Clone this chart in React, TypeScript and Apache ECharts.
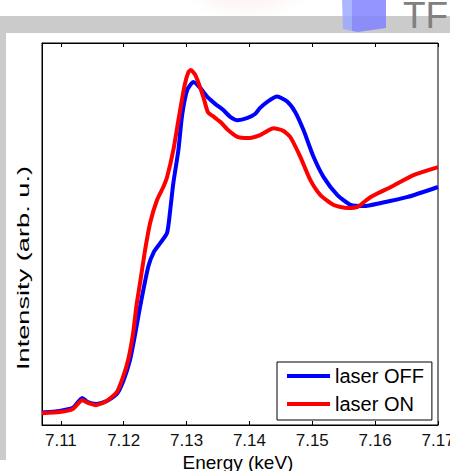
import React, { useEffect, useRef } from "react";
import * as echarts from "echarts";

// X tick labels (keV)
const xTicks = [7.11, 7.12, 7.13, 7.14, 7.15, 7.16, 7.17];

// laser OFF
const energyOff = [7.1070, 7.1098, 7.1119, 7.1134, 7.1143, 7.1156, 7.1173, 7.1189, 7.1200, 7.1210, 7.1218, 7.1226, 7.1239, 7.1248, 7.1258, 7.1269, 7.1274, 7.1279, 7.1287, 7.1293, 7.1301, 7.1311, 7.1322, 7.1333, 7.1346, 7.1358, 7.1370, 7.1381, 7.1397, 7.1409, 7.1417, 7.1430, 7.1444, 7.1460, 7.1473, 7.1486, 7.1502, 7.1518, 7.1540, 7.1561, 7.1582, 7.1609, 7.1652, 7.1700];
const intensityOff = [3.3, 3.7, 4.5, 7.1, 6.0, 5.5, 6.3, 8.1, 11.8, 17.0, 23.6, 30.9, 41.4, 45.3, 47.6, 50.3, 56.3, 63.4, 72.0, 81.2, 87.7, 89.8, 88.2, 85.9, 84.0, 82.5, 80.6, 79.8, 80.4, 81.4, 83.0, 84.8, 86.0, 84.7, 81.9, 77.2, 70.2, 64.9, 60.2, 57.6, 57.3, 58.1, 59.7, 62.3];

// laser ON
const energyOn = [7.1070, 7.1098, 7.1119, 7.1134, 7.1143, 7.1156, 7.1173, 7.1189, 7.1199, 7.1207, 7.1215, 7.1220, 7.1226, 7.1234, 7.1242, 7.1253, 7.1263, 7.1269, 7.1279, 7.1287, 7.1297, 7.1303, 7.1307, 7.1314, 7.1322, 7.1328, 7.1334, 7.1344, 7.1354, 7.1366, 7.1381, 7.1397, 7.1417, 7.1429, 7.1438, 7.1454, 7.1465, 7.1481, 7.1497, 7.1513, 7.1534, 7.1556, 7.1572, 7.1593, 7.1625, 7.1661, 7.1700];
const intensityOn = [3.1, 3.4, 4.2, 6.5, 5.8, 5.2, 6.3, 8.6, 12.6, 17.0, 24.1, 30.9, 37.2, 45.8, 52.9, 58.9, 62.3, 64.9, 72.0, 79.8, 89.0, 92.4, 92.9, 91.6, 88.2, 85.1, 81.9, 80.6, 79.3, 77.2, 75.4, 75.1, 75.9, 77.0, 77.7, 77.0, 75.4, 70.2, 64.1, 60.2, 57.6, 56.8, 57.1, 59.7, 62.3, 65.4, 67.5];

const FONT = '"Liberation Sans", Arial, sans-serif';

export default function App() {
  const ref = useRef<HTMLDivElement>(null);
  useEffect(() => {
    if (!ref.current) return;
    const chart = echarts.init(ref.current, null, { renderer: "svg" });
    const pairs = (xs: number[], ys: number[]) => xs.map((x, i) => [x, ys[i]]);
    const baseX = {
      type: "value",
      min: 7.107,
      max: 7.17,
      splitLine: { show: false },
    };
    chart.setOption({
      animation: false,
      backgroundColor: "transparent",
      grid: {
        left: 42,
        top: 43,
        right: 12,
        bottom: 46,
        containLabel: false,
        outerBoundsMode: "none",
        show: true,
        borderColor: "#000",
        borderWidth: 1,
        backgroundColor: "#fff",
      },
      xAxis: [
        {
          ...baseX,
          position: "bottom",
          axisLine: { show: true, lineStyle: { color: "#000", width: 1 } },
          axisTick: { show: true, inside: true, length: 4, customValues: xTicks, lineStyle: { color: "#000" } },
          axisLabel: {
            show: true,
            customValues: xTicks,
            formatter: (v: number) => v.toFixed(2),
            color: "#111",
            fontFamily: FONT,
            fontSize: 17,
            margin: 7,
            showMaxLabel: true,
            showMinLabel: true,
          },
        },
        {
          ...baseX,
          position: "top",
          axisLine: { show: true, lineStyle: { color: "#000", width: 1 } },
          axisTick: { show: true, inside: true, length: 4, customValues: xTicks, lineStyle: { color: "#000" } },
          axisLabel: { show: false },
        },
      ],
      yAxis: {
        type: "value",
        min: 0,
        max: 100,
        axisLine: { show: true, lineStyle: { color: "#000" } },
        axisTick: { show: false },
        axisLabel: { show: false },
        splitLine: { show: false },
      },
      legend: {
        left: 277,
        top: 362,
        orient: "vertical",
        backgroundColor: "#fff",
        borderColor: "#000",
        borderWidth: 1,
        borderRadius: 0,
        padding: [4, 8, 6, 10],
        itemGap: 8,
        itemWidth: 43,
        itemHeight: 4,
        icon: "rect",
        textStyle: { color: "#000", fontFamily: FONT, fontSize: 20, padding: [0, 0, 0, 0] },
        data: ["laser OFF", "laser ON"],
      },
      graphic: [
        {
          type: "circle",
          z: -10,
          shape: { cx: 214, cy: -45, r: 70 },
          scaleX: 1.15,
          style: {
            fill: new echarts.graphic.RadialGradient(0.5, 0.5, 0.5, [
              { offset: 0, color: "rgba(225,120,120,0.2)" },
              { offset: 0.7, color: "rgba(235,160,160,0.1)" },
              { offset: 1, color: "rgba(240,190,190,0)" },
            ]),
          },
        },
        { type: "rect", z: -5, shape: { x: 0, y: 16, width: 450, height: 17 }, style: { fill: "#cbcbcb" } },
        { type: "rect", z: -5, shape: { x: 0, y: 16, width: 6, height: 444 }, style: { fill: "#cbcbcb" } },
        {
          type: "polygon",
          z: -4,
          shape: { points: [[352, 0], [386, 0], [386, 28], [358, 32], [352, 31]] },
          style: { fill: "rgba(130,130,255,0.85)" },
        },
        {
          type: "polygon",
          z: -4,
          shape: { points: [[342, 0], [352, 0], [352, 31], [343, 29]] },
          style: { fill: "rgba(150,165,255,0.8)" },
        },
        {
          type: "text",
          z: -4,
          x: 403,
          y: 34,
          style: { text: "TF", font: `37px ${FONT}`, fill: "#808080", verticalAlign: "bottom" },
        },
        {
          type: "text",
          x: 238,
          y: 462,
          style: {
            text: "Energy (keV)",
            font: `19px ${FONT}`,
            fill: "#000",
            align: "center",
            verticalAlign: "middle",
          },
        },
        {
          type: "text",
          x: 23,
          y: 268,
          rotation: Math.PI / 2,
          scaleX: 1.6,
          style: {
            text: "Intensity (arb. u.)",
            font: `17px ${FONT}`,
            fill: "#000",
            align: "center",
            verticalAlign: "middle",
          },
        },
      ],
      series: [
        {
          name: "laser OFF",
          type: "line",
          xAxisIndex: 0,
          data: pairs(energyOff, intensityOff),
          showSymbol: false,
          smooth: 0.2,
          color: "#0000ff",
          lineStyle: { color: "#0000ff", width: 4 },
        },
        {
          name: "laser ON",
          type: "line",
          xAxisIndex: 0,
          data: pairs(energyOn, intensityOn),
          showSymbol: false,
          smooth: 0.2,
          color: "#ff0000",
          lineStyle: { color: "#ff0000", width: 4 },
        },
      ],
    });
    return () => chart.dispose();
  }, []);
  return <div ref={ref} style={{ position: "absolute", left: 0, top: 0, width: 450, height: 471 }} />;
}
